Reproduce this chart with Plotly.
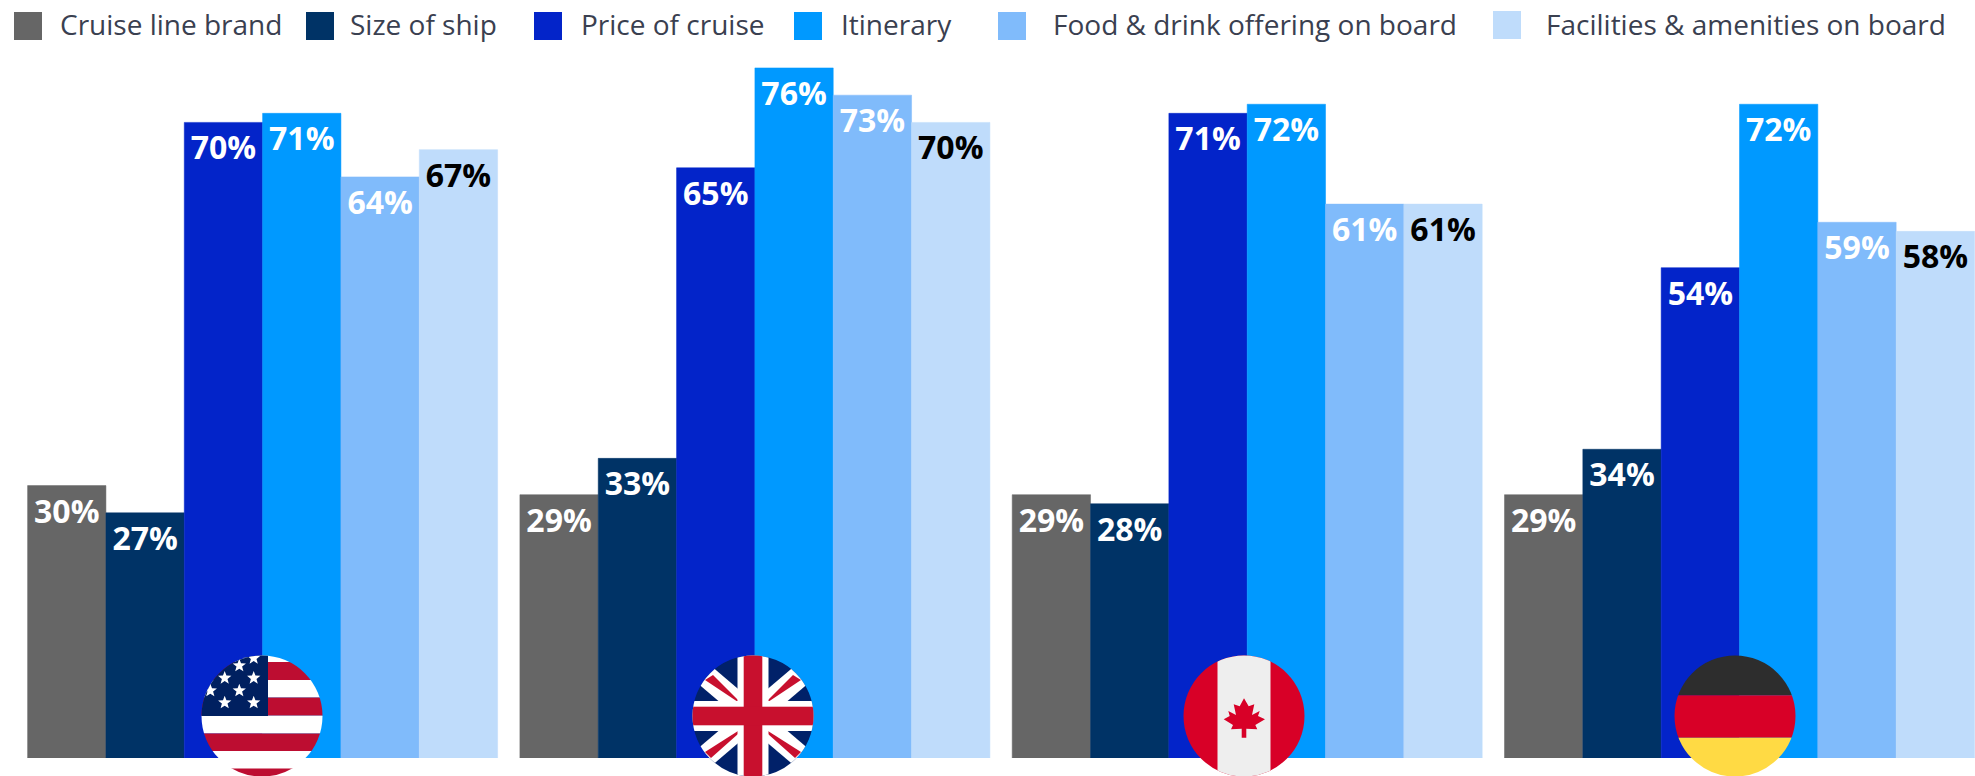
import base64
import math
import plotly.graph_objects as go

WIDTH, HEIGHT = 1975, 776
BASELINE = 758
PX_PER_PERCENT = 9.08

countries = ["United States", "United Kingdom", "Canada", "Germany"]
cruise_line_brand = [30, 29, 29, 29]
size_of_ship = [27, 33, 28, 34]
price_of_cruise = [70, 65, 71, 54]
itinerary = [71, 76, 72, 72]
food_and_drink = [64, 73, 61, 59]
facilities = [67, 70, 61, 58]

series_names = [
    "Cruise line brand",
    "Size of ship",
    "Price of cruise",
    "Itinerary",
    "Food & drink offering on board",
    "Facilities & amenities on board",
]
series_values = [
    cruise_line_brand,
    size_of_ship,
    price_of_cruise,
    itinerary,
    food_and_drink,
    facilities,
]
series_colors = ["#666666", "#003366", "#0324c9", "#0099ff", "#80bbfb", "#bfdcfb"]
label_colors = ["#ffffff"] * 5 + ["#000000"]

# Legend layout, in page pixels: swatch left edge, text left edge, vertical offset
legend_swatch_x = [14, 306, 534, 794, 998, 1493]
legend_text_x = [58, 348, 579, 839, 1051, 1544]
legend_swatch_top = [12, 12, 12, 12, 12, 11]
LEGEND_TEXT_Y = 24
SWATCH = 28

# Flag badges: centre x in page pixels
flag_center_x = [262, 753, 1244, 1735]
FLAG_CENTER_Y = 716
FLAG_BOX = 122


def star(cx, cy, r=7):
    pts = []
    for i in range(10):
        rad = r if i % 2 == 0 else r * 0.42
        a = -math.pi / 2 + i * math.pi / 5
        pts.append(f"{cx + rad * math.cos(a):.2f},{cy + rad * math.sin(a):.2f}")
    return f'<polygon fill="#fff" points="{" ".join(pts)}"/>'


def us_flag():
    red = "#bd0d31"
    bands = [(-61, "#fff"), (-54, red), (-36, "#fff"), (-18.5, red), (-0.3, "#fff"),
             (17.5, red), (35, "#fff"), (52.5, red)]
    rects = "".join(
        f'<rect x="-61" y="{y}" width="122" height="{(bands[i + 1][0] if i + 1 < len(bands) else 61) - y}" fill="{c}"/>'
        for i, (y, c) in enumerate(bands)
    )
    canton = '<rect x="-61" y="-61" width="67" height="61" fill="#002060"/>'
    stars = "".join(
        star(x, y)
        for x, y in [(-22.7, -50.3), (-8.3, -58), (-37.3, -38), (-8.3, -38),
                     (-51.7, -25.3), (-22.7, -25.3), (-37.3, -13.3), (-8.3, -13.3)]
    )
    return rects + canton + stars


def uk_flag():
    red = "#c8102e"
    white = "#ffffff"
    parts = [
        '<rect x="-61" y="-61" width="122" height="122" fill="#012169"/>',
        f'<line x1="-61" y1="-52" x2="61" y2="52" stroke="{white}" stroke-width="22"/>',
        f'<line x1="-61" y1="52" x2="61" y2="-52" stroke="{white}" stroke-width="22"/>',
        f'<polygon fill="{red}" points="-48,-36 -40,-41 -15,-16 -15,-14"/>',
        f'<polygon fill="{red}" points="48,-36 40,-41 15,-16 15,-14"/>',
        f'<polygon fill="{red}" points="-48,36 -42,42 -15,18 -15,15"/>',
        f'<polygon fill="{red}" points="48,36 42,42 15,18 15,15"/>',
        f'<rect x="-15.5" y="-61" width="31" height="122" fill="{white}"/>',
        f'<rect x="-61" y="-15" width="122" height="30" fill="{white}"/>',
        f'<rect x="-9.3" y="-61" width="18.6" height="122" fill="{red}"/>',
        f'<rect x="-61" y="-9.3" width="122" height="18.6" fill="{red}"/>',
    ]
    return "".join(parts)


def canada_flag():
    red = "#d80027"
    leaf = [(0, -17.7), (4.7, -9.7), (10.3, -11.7), (8, -1), (15.7, -5), (14, 0), (21, 3.3),
            (11.3, 9), (13.3, 13.3), (2.3, 12.7), (2.3, 21.7), (-2.3, 21.7), (-2.3, 12.7),
            (-13, 13.3), (-11, 9), (-20.3, 3.3), (-14.3, 0), (-15.7, -5), (-8, -1),
            (-10.3, -11.7), (-4.3, -9.7)]
    pts = " ".join(f"{x},{y}" for x, y in leaf)
    return (
        f'<rect x="-61" y="-61" width="122" height="122" fill="{red}"/>'
        '<rect x="-26.5" y="-61" width="53" height="122" fill="#eeeeee"/>'
        f'<polygon fill="{red}" points="{pts}"/>'
    )


def germany_flag():
    return (
        '<rect x="-61" y="-61" width="122" height="40.3" fill="#2d2d2d"/>'
        '<rect x="-61" y="-20.7" width="122" height="42.4" fill="#d80027"/>'
        '<rect x="-61" y="21.7" width="122" height="39.3" fill="#ffda44"/>'
    )


def badge_uri(body):
    svg = (
        '<svg xmlns="http://www.w3.org/2000/svg" width="122" height="122" viewBox="-61 -61 122 122">'
        '<defs><clipPath id="c"><circle r="60.5"/></clipPath></defs>'
        f'<g clip-path="url(#c)">{body}</g></svg>'
    )
    return "data:image/svg+xml;base64," + base64.b64encode(svg.encode()).decode()


flag_bodies = [us_flag(), uk_flag(), canada_flag(), germany_flag()]

fig = go.Figure()
for name, values, color, label_color in zip(series_names, series_values, series_colors, label_colors):
    fig.add_bar(
        name=name,
        x=countries,
        y=values,
        # A hairline in the fill colour closes the seams between neighbouring bars
        marker=dict(color=color, line=dict(width=0.5, color=color)),
        text=[f"{v}%" for v in values],
        textposition="inside",
        insidetextanchor="end",
        textangle=0,
        constraintext="none",
        textfont=dict(family="Open Sans", size=32, color=label_color, weight=700),
        showlegend=False,
    )

shapes = []
annotations = []
for i, name in enumerate(series_names):
    top = legend_swatch_top[i]
    shapes.append(dict(
        type="rect", xref="paper", yref="paper", line_width=0, fillcolor=series_colors[i],
        x0=legend_swatch_x[i] / WIDTH, x1=(legend_swatch_x[i] + SWATCH) / WIDTH,
        y0=1 - (top + SWATCH) / HEIGHT, y1=1 - top / HEIGHT,
    ))
    annotations.append(dict(
        text=name, xref="paper", yref="paper", showarrow=False,
        x=legend_text_x[i] / WIDTH, y=1 - LEGEND_TEXT_Y / HEIGHT, xanchor="left", yanchor="middle",
        font=dict(family="Open Sans", size=28, color="#3a4050"),
    ))

images = [
    dict(
        source=badge_uri(body), xref="paper", yref="paper", layer="above",
        x=(cx - FLAG_BOX / 2) / WIDTH, y=1 - (FLAG_CENTER_Y - FLAG_BOX / 2) / HEIGHT,
        sizex=FLAG_BOX / WIDTH, sizey=FLAG_BOX / HEIGHT, xanchor="left", yanchor="top",
        sizing="stretch",
    )
    for cx, body in zip(flag_center_x, flag_bodies)
]

# Category 0 sits at x=262.6 px and the groups repeat every 492.3 px
PERIOD = 492.3
ORIGIN = 262.6
fig.update_layout(
    width=WIDTH,
    height=HEIGHT,
    margin=dict(l=0, r=0, t=0, b=0),
    paper_bgcolor="#ffffff",
    plot_bgcolor="#ffffff",
    barmode="group",
    bargap=22.3 / PERIOD,
    bargroupgap=0,
    xaxis=dict(
        type="category",
        range=[-ORIGIN / PERIOD, (WIDTH - ORIGIN) / PERIOD],
        visible=False,
    ),
    yaxis=dict(
        domain=[1 - BASELINE / HEIGHT, 1],
        range=[0, BASELINE / PX_PER_PERCENT],
        visible=False,
    ),
    shapes=shapes,
    annotations=annotations,
    images=images,
)

fig.write_html("out.html", config=dict(displayModeBar=False))
